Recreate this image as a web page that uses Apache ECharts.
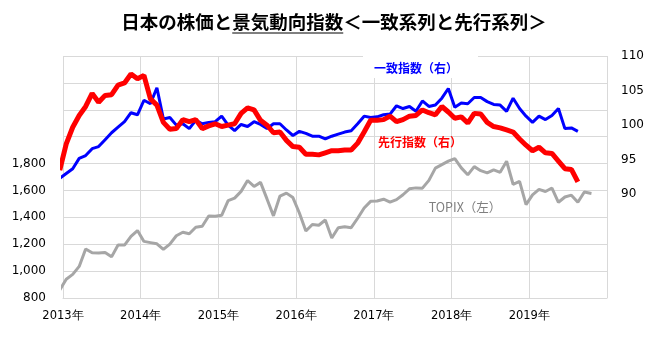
<!DOCTYPE html>
<html><head><meta charset="utf-8">
<script src="https://cdn.jsdelivr.net/npm/echarts@6/dist/echarts.min.js"></script>
<style>html,body{margin:0;padding:0;background:#fff}#c{width:670px;height:346px}</style>
</head><body><div id="c"></div>
<script>
// Monthly values, first entry = Dec 2012, then Jan 2013 onward
const startYear = 2013;
const titleText = '日本の株価と景気動向指数＜一致系列と先行系列＞';
const titleLinkText = '景気動向指数';
const labelCoincident = '一致指数（右）';
const labelLeading = '先行指数（右）';
const labelTopix = 'TOPIX（左）';

const topixValues = [860,
  940, 976, 1035, 1165, 1136, 1134, 1138, 1106, 1194, 1194, 1259, 1302,
  1221, 1212, 1203, 1162, 1201, 1263, 1289, 1278, 1326, 1334, 1410, 1408,
  1415, 1524, 1543, 1593, 1674, 1630, 1660, 1537, 1411, 1558, 1580, 1547,
  1432, 1298, 1347, 1341, 1380, 1246, 1323, 1330, 1323, 1393, 1469, 1519,
  1522, 1535, 1513, 1532, 1568, 1612, 1619, 1617, 1675, 1766, 1792, 1818,
  1837, 1768, 1716, 1777, 1747, 1731, 1753, 1735, 1817, 1646, 1667, 1494,
  1567, 1608, 1592, 1618, 1512, 1551, 1565, 1512, 1588];
const topixLatest = 1578;        // latest (early Oct 2019) value
const topixLatestMonth = 81.6;   // months since Jan 2013

const coincidentValues = [92.3,
  93.0, 93.7, 95.2, 95.6, 96.6, 96.9, 97.9, 98.9, 99.7, 100.5, 101.8, 101.5,
  103.6, 103.1, 105.4, 100.9, 101.1, 100.0, 100.2, 99.5, 100.7, 100.2, 100.4, 100.5,
  101.3, 100.0, 99.2, 100.1, 99.8, 100.5, 100.1, 99.5, 100.2, 100.2, 99.3, 98.5,
  99.1, 98.8, 98.4, 98.4, 98.0, 98.4, 98.7, 99.0, 99.2, 100.2, 101.3, 101.1,
  101.2, 101.5, 101.6, 102.8, 102.4, 102.7, 102.0, 103.5, 102.7, 102.9, 103.9, 105.3,
  102.6, 103.2, 103.1, 104.0, 104.0, 103.4, 103.0, 102.9, 102.0, 103.9, 102.4, 101.3,
  100.4, 101.3, 100.8, 101.4, 102.4, 99.5, 99.6, 99.1];

const leadingValues = [93.5,
  97.3, 99.7, 101.4, 102.7, 104.6, 103.3, 104.3, 104.4, 105.8, 106.1, 107.4, 106.7,
  107.2, 103.8, 102.9, 100.4, 99.4, 99.5, 100.8, 100.5, 100.8, 99.5, 99.9, 100.2,
  99.8, 100.0, 100.2, 101.7, 102.5, 102.2, 100.7, 100.0, 98.9, 99.0, 97.8, 96.9,
  96.8, 95.8, 95.8, 95.7, 96.0, 96.3, 96.3, 96.4, 96.4, 97.4, 99.0, 100.7,
  100.7, 100.8, 101.3, 100.5, 100.8, 101.3, 101.4, 102.2, 101.8, 101.5, 102.7, 101.9,
  101.0, 101.2, 100.3, 101.7, 101.6, 100.4, 99.8, 99.6, 99.3, 99.0, 98.0, 97.1,
  96.3, 96.8, 96.0, 95.9, 94.8, 93.7, 93.6, 91.8];

// month index i (0 = Dec 2012) plotted at mid-month
const toPoints = arr => arr.map((v, i) => [i - 0.5, v]);
const topixPts = toPoints(topixValues).concat([[topixLatestMonth, topixLatest]]);

const CJK = '"Noto Sans CJK JP", sans-serif';
const chart = echarts.init(document.getElementById('c'));

// measure title for underline
const cv = document.createElement('canvas').getContext('2d');
const titleFont = 'bold 18.5px "Noto Sans CJK JP"';
cv.font = titleFont;
const fullW = cv.measureText(titleText).width;
const preW = cv.measureText(titleText.slice(0, titleText.indexOf(titleLinkText))).width;
const linkW = cv.measureText(titleLinkText).width;
const titleCx = 334, titleCy = 22;
const ulX0 = titleCx - fullW / 2 + preW;

const gridColor = '#d9d9d9';
chart.setOption({
  animation: false,
  backgroundColor: '#fff',
  grid: {left: 63, right: 63, top: 56, bottom: 48, containLabel: false},
  xAxis: {
    type: 'value', min: 0, max: 84, interval: 12,
    axisLine: {show: true, lineStyle: {color: gridColor}},
    axisTick: {show: false},
    splitLine: {show: true, lineStyle: {color: gridColor, width: 1}},
    axisLabel: {
      margin: 12, color: '#000', fontSize: 11.5, fontFamily: 'DejaVu Sans',
      formatter: v => v >= 84 ? '' : (startYear + v / 12) + '年'
    }
  },
  yAxis: [{
    type: 'value', min: 800, max: 2600, interval: 200,
    axisLine: {show: false}, axisTick: {show: false},
    splitLine: {show: true, lineStyle: {color: gridColor, width: 1}},
    axisLabel: {
      margin: 17, color: '#000', fontSize: 12, fontFamily: 'DejaVu Sans',
      formatter: v => v > 1800 ? '' : v.toLocaleString('en-US')
    }
  }, {
    type: 'value', min: 75, max: 110, interval: 5, position: 'right',
    axisLine: {show: false}, axisTick: {show: false}, splitLine: {show: false},
    axisLabel: {
      margin: 14, color: '#000', fontSize: 12, fontFamily: 'DejaVu Sans',
      formatter: v => v < 90 ? '' : String(v)
    }
  }],
  series: [{
    name: 'TOPIX', type: 'line', yAxisIndex: 0, data: topixPts,
    showSymbol: false, clip: true,
    lineStyle: {color: '#a6a6a6', width: 3}, z: 2
  }, {
    name: '一致指数', type: 'line', yAxisIndex: 1, data: toPoints(coincidentValues),
    showSymbol: false, clip: true,
    lineStyle: {color: '#0000ff', width: 3}, z: 3
  }, {
    name: '先行指数', type: 'line', yAxisIndex: 1, data: toPoints(leadingValues),
    showSymbol: false, clip: true,
    lineStyle: {color: '#ff0000', width: 5}, z: 4
  }],
  graphic: [
    {type: 'text', x: titleCx, y: titleCy, z: 20,
      style: {text: titleText, font: titleFont, fill: '#000', align: 'center', verticalAlign: 'middle'}},
    {type: 'line', z: 20, shape: {x1: ulX0, y1: titleCy + 11, x2: ulX0 + linkW, y2: titleCy + 11},
      style: {stroke: '#000', lineWidth: 1}},
    {type: 'rect', z: 10, shape: {x: 363, y: 49, width: 115, height: 29}, style: {fill: '#fff'}},
    {type: 'text', x: 416, y: 68, z: 20,
      style: {text: labelCoincident, font: 'bold 12px ' + CJK, fill: '#0000ff', align: 'center', verticalAlign: 'middle'}},
    {type: 'text', x: 420, y: 142, z: 20,
      style: {text: labelLeading, font: 'bold 12px ' + CJK, fill: '#ff0000', align: 'center', verticalAlign: 'middle'}},
    {type: 'text', x: 465, y: 207, z: 20,
      style: {text: labelTopix, font: '12.5px ' + CJK, fill: '#7f7f7f', align: 'center', verticalAlign: 'middle'}}
  ]
});
</script>
</body></html>
